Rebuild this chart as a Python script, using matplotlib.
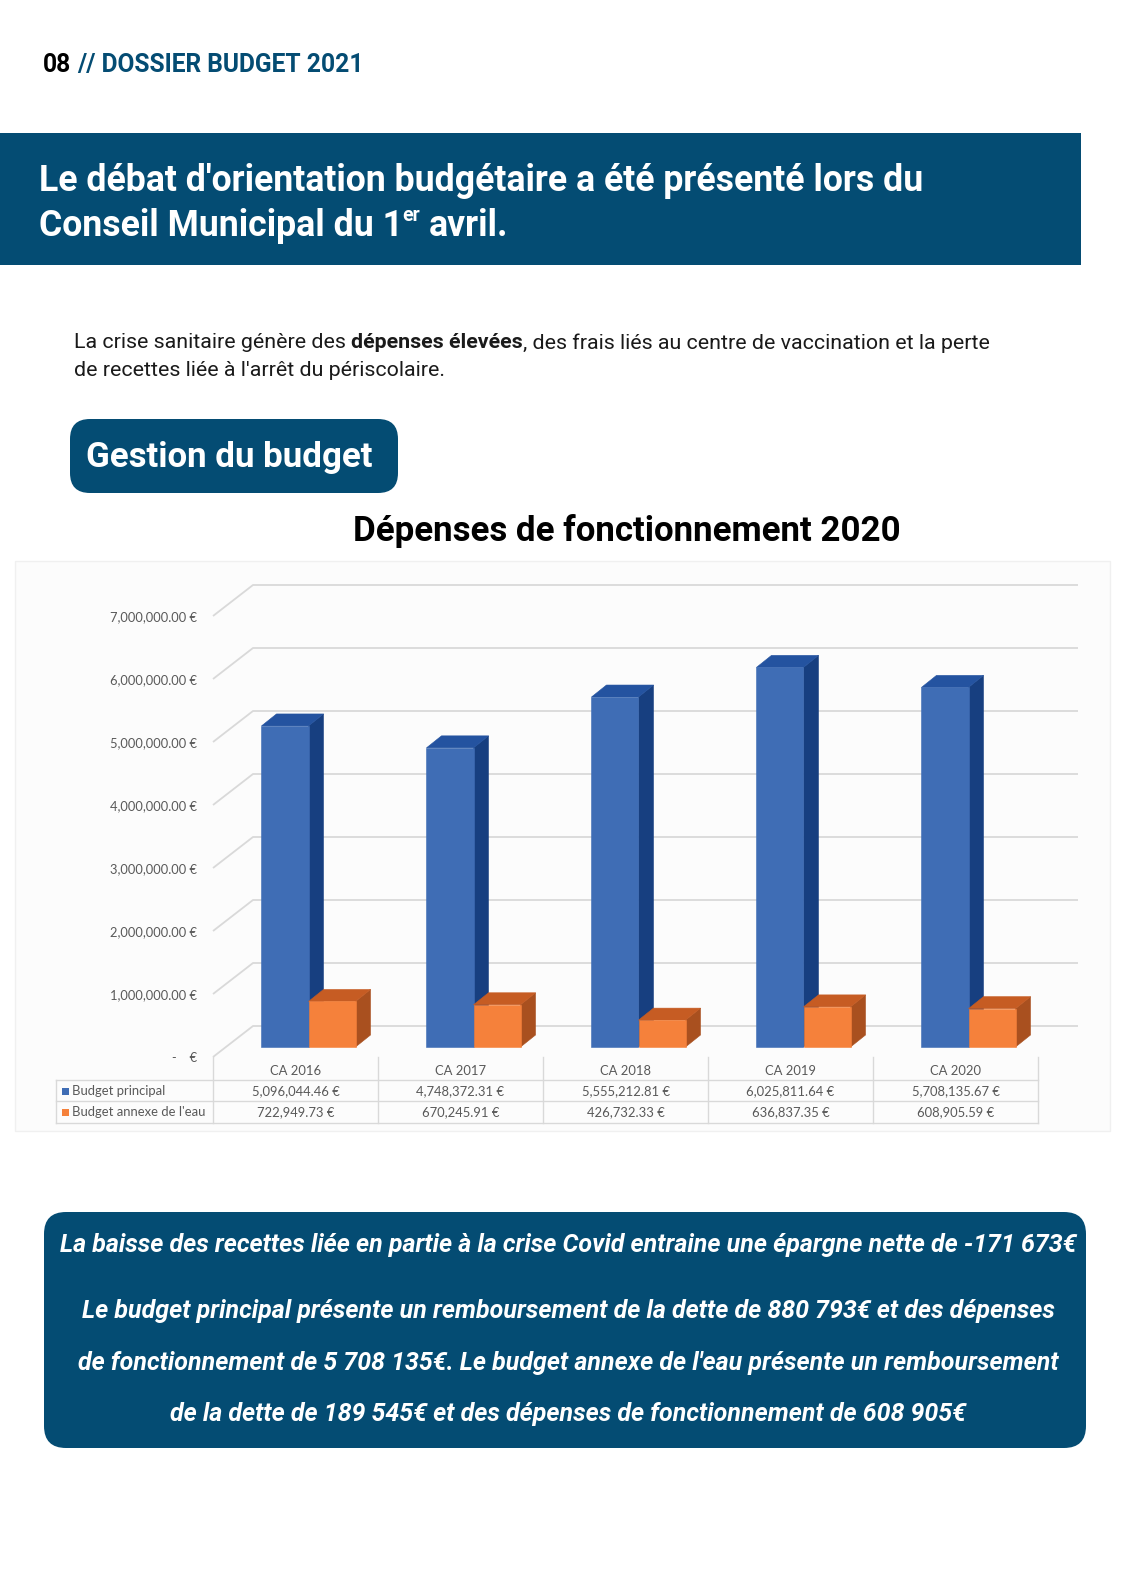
#!/usr/bin/env python3
"""Page 08 du dossier budget 2021 : dépenses de fonctionnement 2020 en barres 3D."""

import matplotlib

matplotlib.use("Agg")
import matplotlib.pyplot as plt
from matplotlib import transforms
from matplotlib.patches import FancyBboxPatch, Polygon, Rectangle
from matplotlib.ticker import FixedLocator, FuncFormatter

categories = ["CA 2016", "CA 2017", "CA 2018", "CA 2019", "CA 2020"]
budget_principal = [5096044.46, 4748372.31, 5555212.81, 6025811.64, 5708135.67]
budget_eau = [722949.73, 670245.91, 426732.33, 636837.35, 608905.59]
series_names = ["Budget principal", "Budget annexe de l'eau"]
y_ticks = [0, 1e6, 2e6, 3e6, 4e6, 5e6, 6e6, 7e6]

W, H = 1124, 1590
NAVY = "#044c73"
PAGE_FONT = "Roboto"
GRID = "#d9d9d9"
CHART_TXT = "#595959"
BLUE = ("#3f6db5", "#173f80", "#2453a0")  # face, côté, dessus
ORANGE = ("#f5813b", "#a9501f", "#c65c23")

plt.rcParams["font.family"] = ["Lato", "DejaVu Sans"]

fig = plt.figure(figsize=(W / 100, H / 100), dpi=100)
page = fig.add_axes([0, 0, 1, 1], zorder=0)
page.set_xlim(0, W)
page.set_ylim(H, 0)
page.axis("off")
renderer = fig.canvas.get_renderer()


def width(t):
    return t.get_window_extent(renderer).width


def fitted_size(s, target, **kw):
    t = page.text(0, 0, s, fontsize=20, **kw)
    size = 20 * target / width(t)
    t.remove()
    return size


def runs(x, y, parts, size, **kw):
    """Pieces of text one after the other; parts = (text, extra kwargs, space before)."""
    a = page.text(0, 0, "a a", fontsize=size, **kw)
    b = page.text(0, 0, "aa", fontsize=size, **kw)
    space = width(a) - width(b)
    a.remove()
    b.remove()
    drawn = []
    for s, extra, gap in parts:
        if gap:
            x += space
        t = page.text(x, y, s, **{"fontsize": size, **kw, **extra})
        x += width(t)
        drawn.append(t)
    return drawn, x


def fit_runs(x, y, parts, target, **kw):
    drawn, end = runs(x, y, parts, 20, **kw)
    for t in drawn:
        t.remove()
    size = 20 * target / (end - x)
    runs(x, y, parts, size, **kw)
    return size


def baseline(center, size):
    return center + 0.36 * size * 100 / 72


# --- en-tête de page
fit_runs(43, 65, [("08", {"color": "black"}, False),
                  ("// DOSSIER BUDGET 2021", {"color": NAVY}, True)],
         322, family=PAGE_FONT, weight="bold", va="center")

# --- bandeau titre
page.add_patch(Rectangle((0, 133), 1081, 132, fc=NAVY, ec="none"))
line1 = "Le débat d'orientation budgétaire a été présenté lors du"
bsize = fitted_size(line1, 881, family=PAGE_FONT, weight="bold")
bkw = dict(family=PAGE_FONT, weight="bold", color="white", va="baseline")
page.text(39, baseline(178, bsize), line1, fontsize=bsize, **bkw)
y2 = baseline(223, bsize)
drawn, end = runs(39, y2, [("Conseil Municipal du 1", {}, False)], bsize, **bkw)
sup = page.text(end - 1, y2 - 0.42 * bsize * 100 / 72, "er", fontsize=bsize * 0.55, **bkw)
runs(end - 1 + width(sup), y2, [("avril.", {}, True)], bsize, **bkw)

# --- paragraphe
pkw = dict(family=PAGE_FONT, color="#1a1a1a", va="center")
psize = fit_runs(74, 343, [("La crise sanitaire génère des", {}, False),
                           ("dépenses élevées", {"weight": "bold"}, True),
                           (", des frais liés au centre de vaccination et la perte", {}, False)],
                 915, **pkw)
page.text(74, 371, "de recettes liée à l'arrêt du périscolaire.", fontsize=psize, **pkw)

# --- pastille "Gestion du budget"
page.add_patch(FancyBboxPatch((70, 419), 328, 74, boxstyle="round,pad=0,rounding_size=20",
                              fc=NAVY, ec="none"))
gsize = fitted_size("Gestion du budget", 286, family=PAGE_FONT, weight="bold")
page.text(86, 458, "Gestion du budget", fontsize=gsize, family=PAGE_FONT, weight="bold",
          color="white", va="center")

# --- titre du graphique
tsize = fitted_size("Dépenses de fonctionnement 2020", 547, family=PAGE_FONT, weight="bold")
page.text(627, 531, "Dépenses de fonctionnement 2020", fontsize=tsize, family=PAGE_FONT,
          weight="bold", color="black", ha="center", va="center")

# fond de l'image du graphique
page.add_patch(Rectangle((15, 561), 1095, 570, fc="#fcfcfc", ec="#f0f0f0", lw=1))

# --- graphique 3D : plan avant de la catégorie 0 à n, de 0 à 7 M€
n = len(categories)
X0, X1, Y0, Y7 = 213, 1038, 1057, 616
ax = fig.add_axes([X0 / W, 1 - Y0 / H, (X1 - X0) / W, (Y0 - Y7) / H], zorder=1)
ax.set_xlim(0, n)
ax.set_ylim(0, y_ticks[-1])
ax.patch.set_visible(False)
for sp in ax.spines.values():
    sp.set_visible(False)
px_x = n / (X1 - X0)
px_y = y_ticks[-1] / (Y0 - Y7)

# quadrillage : diagonale à gauche puis ligne sur le mur du fond
back_dx, back_dy = 40 * px_x, 31 * px_y
for v in y_ticks:
    ax.plot([0, back_dx, n + back_dx], [v, v + back_dy, v + back_dy],
            color=GRID, lw=1.3, clip_on=False, zorder=1, solid_capstyle="butt")

bw = 0.285
fx, fy = 13 * px_x, 10 * px_y     # recul de la face avant des barres
tx, ty = 15 * px_x, 12 * px_y     # profondeur des barres
xs = [i + 0.5 for i in range(n)]
for k, (vals, cols, off) in enumerate(((budget_principal, BLUE, -bw / 2),
                                       (budget_eau, ORANGE, bw / 2))):
    z = 2 + 2 * k
    for x, v in zip(xs, vals):
        xl = x + off - bw / 2 + fx
        xr = xl + bw
        ax.add_patch(Polygon([(xr, fy), (xr + tx, fy + ty), (xr + tx, v + fy + ty), (xr, v + fy)],
                             fc=cols[1], ec=cols[1], lw=0.4, zorder=z, clip_on=False))
        ax.add_patch(Polygon([(xl, v + fy), (xr, v + fy), (xr + tx, v + fy + ty), (xl + tx, v + fy + ty)],
                             fc=cols[2], ec=cols[2], lw=0.4, zorder=z, clip_on=False))
    ax.bar([x + off + fx for x in xs], vals, width=bw, bottom=fy, color=cols[0],
           edgecolor=cols[0], lw=0.4, zorder=z + 1, clip_on=False)

tick_size = fitted_size("7,000,000.00 €", 87, family="Lato")
table_size = fitted_size("5,096,044.46 €", 88, family="Lato")
ax.yaxis.set_major_locator(FixedLocator(y_ticks))
ax.yaxis.set_major_formatter(FuncFormatter(lambda v, _: "-    €" if v == 0 else f"{v:,.2f} €"))
ax.tick_params(axis="y", length=0, pad=16 * 0.72, labelsize=tick_size, labelcolor=CHART_TXT)
ax.set_xticks(xs, categories)
ax.tick_params(axis="x", length=0, pad=5.5, labelsize=table_size, labelcolor=CHART_TXT)

# --- table de données sous le graphique (x : catégories, y : pixels de page)
tbl = transforms.blended_transform_factory(ax.transData, page.transData)
row_y = [1091, 1112]
left = (56 - X0) * px_x
for y in (1080, 1101, 1123):
    ax.plot([left, n], [y, y], color=GRID, lw=1, transform=tbl, clip_on=False)
for i in range(n + 1):
    ax.plot([i, i], [1057, 1123], color=GRID, lw=1, transform=tbl, clip_on=False)
ax.plot([left, left], [1080, 1123], color=GRID, lw=1, transform=tbl, clip_on=False)
for y, vals, name, cols in zip(row_y, (budget_principal, budget_eau), series_names, (BLUE, ORANGE)):
    page.add_patch(Rectangle((62, y - 3.5), 7, 7, fc=cols[0], ec="none"))
    page.text(72, y, name, fontsize=table_size, color=CHART_TXT, va="center")
    for x, v in zip(xs, vals):
        ax.text(x, y, f"{v:,.2f} €", transform=tbl, fontsize=table_size, color=CHART_TXT,
                ha="center", va="center")

# --- encadré du bas
page.add_patch(FancyBboxPatch((44, 1212), 1042, 236, boxstyle="round,pad=0,rounding_size=22",
                              fc=NAVY, ec="none"))
box_lines = [
    "La baisse des recettes liée en partie à la crise Covid entraine une épargne nette de -171 673€",
    "Le budget principal présente un remboursement de la dette de 880 793€ et des dépenses",
    "de fonctionnement de 5 708 135€. Le budget annexe de l'eau présente un remboursement",
    "de la dette de 189 545€ et des dépenses de fonctionnement de 608 905€",
]
box_y = [1245, 1311, 1363, 1414]
kw = dict(family=PAGE_FONT, weight="bold", style="italic")
bx_size = fitted_size(box_lines[0], 1016, **kw)
for s, y in zip(box_lines, box_y):
    page.text(568, y, s, fontsize=bx_size, color="white", ha="center", va="center", **kw)

fig.savefig("out.png", dpi=100)
print("wrote out.png")
